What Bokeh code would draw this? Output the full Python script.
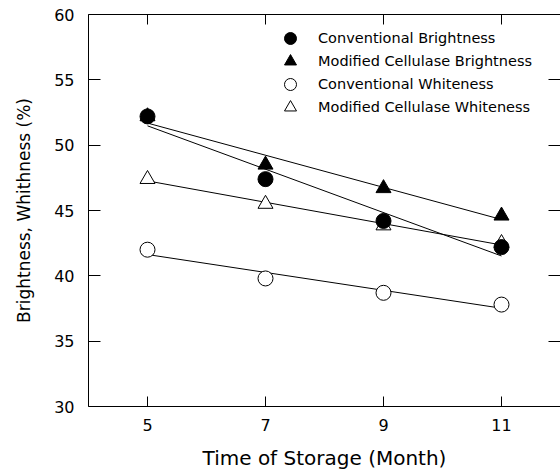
import numpy as np
from bokeh.plotting import figure
from bokeh.models import LinearAxis, FixedTicker, Legend, LegendItem, Range1d
from bokeh.embed import file_html
from bokeh.resources import INLINE

# ---- data ----
months = [5, 7, 9, 11]
conv_brightness = [52.2, 47.4, 44.2, 42.2]
mod_brightness = [52.2, 48.5, 46.7, 44.6]
conv_whiteness = [42.0, 39.8, 38.7, 37.8]
mod_whiteness = [47.4, 45.5, 43.85, 42.5]

x_ticks = [5, 7, 9, 11]
y_ticks = [30, 35, 40, 45, 50, 55, 60]
x_label = "Time of Storage (Month)"
y_label = "Brightness, Whithness (%)"
series_names = ["Conventional Brightness", "Modified Cellulase Brightness",
                "Conventional Whiteness", "Modified Cellulase Whiteness"]

FONT = "DejaVu Sans"

p = figure(width=560, height=475, x_range=Range1d(4, 12), y_range=Range1d(30, 60),
           x_axis_type=None, y_axis_type=None,
           output_backend="svg", toolbar_location=None,
           min_border_left=88, min_border_right=0, min_border_top=14, min_border_bottom=69)
p.outline_line_color = None
p.background_fill_color = "white"
p.border_fill_color = "white"


def style_axis(ax, tick_len, labels=True, line=True):
    ax.major_tick_in = tick_len
    ax.major_tick_out = 0
    ax.minor_tick_line_color = None
    ax.major_tick_line_color = "black"
    ax.major_tick_line_width = 1
    ax.axis_line_color = "black" if line else None
    ax.axis_line_width = 1
    ax.axis_label_text_color = "black"
    if labels:
        ax.major_label_text_font = FONT
        ax.major_label_text_font_size = "16px"
        ax.major_label_text_color = "black"
    else:
        ax.major_label_text_font_size = "0px"
        ax.major_label_standoff = 0
        ax.major_label_overrides = {t: "" for t in ax.ticker.ticks}


bottom = LinearAxis(ticker=FixedTicker(ticks=x_ticks), axis_label=x_label)
style_axis(bottom, 10)
bottom.major_label_standoff = 12
bottom.axis_label_text_font = FONT
bottom.axis_label_text_font_size = "20px"
bottom.axis_label_text_font_style = "normal"
bottom.axis_label_standoff = 12
p.add_layout(bottom, "below")

left = LinearAxis(ticker=FixedTicker(ticks=y_ticks), axis_label=y_label)
style_axis(left, 12)
left.major_label_standoff = 14
left.axis_label_text_font = FONT
left.axis_label_text_font_size = "17px"
left.axis_label_text_font_style = "normal"
left.axis_label_standoff = 17
p.add_layout(left, "left")

top = LinearAxis(ticker=FixedTicker(ticks=x_ticks))
style_axis(top, 10, labels=False)
p.add_layout(top, "above")

right = LinearAxis(ticker=FixedTicker(ticks=y_ticks))
style_axis(right, 12, labels=False, line=False)
p.add_layout(right, "right")

# ---- regression lines ----
xs = np.array(months, dtype=float)
x_fit = np.array([xs.min(), xs.max()])
for ys in [conv_brightness, mod_brightness, conv_whiteness, mod_whiteness]:
    k, b = np.polyfit(xs, np.array(ys), 1)
    p.line(x_fit, k * x_fit + b, line_color="black", line_width=1)

# ---- markers ----
r_mw = p.scatter(months, mod_whiteness, marker="triangle", size=15,
                 fill_color="white", line_color="black", line_width=1)
r_cw = p.scatter(months, conv_whiteness, marker="circle", size=15,
                 fill_color="white", line_color="black", line_width=1)
r_mb = p.scatter(months, mod_brightness, marker="triangle", size=15,
                 fill_color="black", line_color="black", line_width=1)
r_cb = p.scatter(months, conv_brightness, marker="circle", size=15,
                 fill_color="black", line_color="black", line_width=1)

# one legend per row so the row pitch can be tighter than the glyph box
legend_rows = [(series_names[0], r_cb, 353), (series_names[1], r_mb, 330),
               (series_names[2], r_cw, 307), (series_names[3], r_mw, 284)]
for name, rend, ypos in legend_rows:
    lg = Legend(items=[LegendItem(label=name, renderers=[rend])], location=(187, ypos))
    lg.glyph_width = 30
    lg.glyph_height = 30
    lg.spacing = 0
    lg.padding = 0
    lg.margin = 0
    lg.label_standoff = 13
    lg.label_text_font = FONT
    lg.label_text_font_size = "14.5px"
    lg.label_text_color = "black"
    lg.border_line_color = None
    lg.background_fill_alpha = 0
    p.add_layout(lg, "center")

open("out.html", "w").write(file_html(p, INLINE))
